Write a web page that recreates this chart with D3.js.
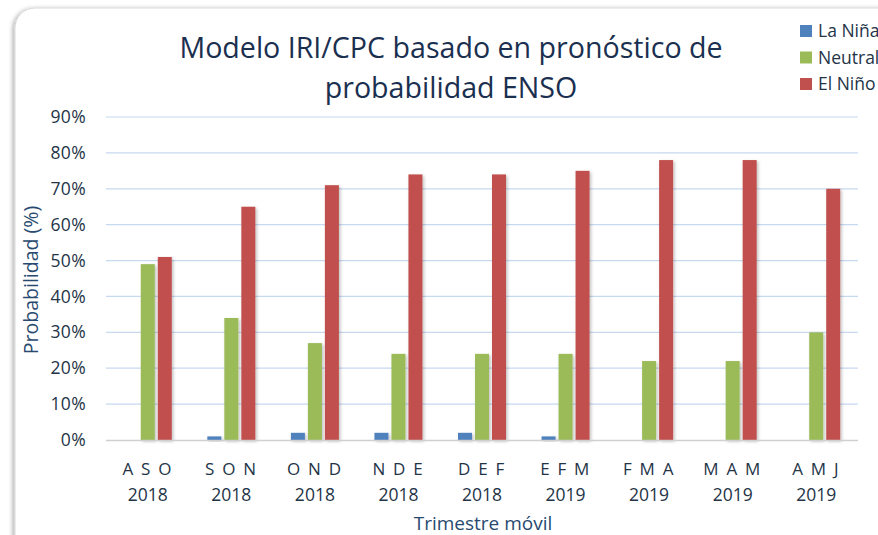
<!DOCTYPE html>
<html><head><meta charset="utf-8">
<script src="https://cdn.jsdelivr.net/npm/d3@7"></script>
<style>
body{margin:0;background:#fff;}
svg{display:block;font-family:"Open Sans",Lato,sans-serif;}
</style></head>
<body><svg id="c" width="878" height="535"></svg>
<script>
const categories = ["A S O|2018","S O N|2018","O N D|2018","N D E|2018","D E F|2018","E F M|2019","F M A|2019","M A M|2019","A M J|2019"];
const seriesNames = ["La Niña","Neutral","El Niño"];
const laNina = [0,1,2,2,2,1,0,0,0];
const neutral = [49,34,27,24,24,24,22,22,30];
const elNino = [51,65,71,74,74,75,78,78,70];
const yTicks = [0,10,20,30,40,50,60,70,80,90];
const colors = ["#4f81bd","#9bbb59","#c0504d"];

const svg = d3.select("#c");
const defs = svg.append("defs");
const f = defs.append("filter").attr("id","sh").attr("x","-50%").attr("y","-50%").attr("width","200%").attr("height","200%");
f.append("feDropShadow").attr("dx",1.5).attr("dy",1.5).attr("stdDeviation",1.5).attr("flood-color","#000").attr("flood-opacity",0.25);
const f2 = defs.append("filter").attr("id","fsh").attr("x","-10%").attr("y","-10%").attr("width","120%").attr("height","120%");
f2.append("feDropShadow").attr("dx",-2).attr("dy",1).attr("stdDeviation",2).attr("flood-color","#000").attr("flood-opacity",0.3);

// frame
svg.append("rect").attr("x",15).attr("y",8).attr("width",900).attr("height",560).attr("rx",20)
  .attr("fill","#fff").attr("stroke","#d9d9d9").attr("stroke-width",1).attr("filter","url(#fsh)");

const m = {l:106, r:858, t:117, b:440};
const x0 = d3.scaleBand().domain(categories).range([m.l,m.r]).paddingInner(0).paddingOuter(0);
const y = d3.scaleLinear().domain([0,90]).range([m.b,m.t]);
const barW = 14, gap = 3;
const x1 = d3.scaleOrdinal().domain([0,1,2]).range([-(barW+gap), 0, barW+gap]);

// grid
svg.append("g").selectAll("line").data(yTicks.filter(d=>d>0)).join("line")
  .attr("x1",m.l).attr("x2",m.r).attr("y1",d=>y(d)).attr("y2",d=>y(d))
  .attr("stroke","#c6d9f1").attr("stroke-width",1.2);

// y axis labels
const yAxis = d3.axisLeft(y).tickValues(yTicks).tickFormat(d=>d+"%").tickSize(0).tickPadding(0);
const yg = svg.append("g").attr("transform",`translate(${m.l-20},0)`).call(yAxis);
yg.attr("font-size",null).attr("font-family",null);
yg.select(".domain").remove();
yg.selectAll("text").style("font-size","17.5px").attr("letter-spacing","0.02em").attr("fill","#243447");

// bars
const data = [laNina, neutral, elNino];
const bars = svg.append("g");
data.forEach((s,i)=>{
  bars.selectAll(null).data(s.map((v,j)=>({v,c:categories[j]}))).join("rect")
    .attr("x",d=>x0(d.c)+x0.bandwidth()/2+x1(i)-barW/2)
    .attr("width",barW)
    .attr("y",d=>y(d.v))
    .attr("height",d=>y(0)-y(d.v))
    .attr("fill",colors[i])
    .attr("filter","url(#sh)");
});

// baseline
svg.append("line").attr("x1",m.l).attr("x2",m.r).attr("y1",y(0)+0.5).attr("y2",y(0)+0.5)
  .attr("stroke","#d0d0d0").attr("stroke-width",1.5);

// x axis labels
const xAxis = d3.axisBottom(x0).tickSize(0).tickFormat("");
const xg = svg.append("g").attr("transform",`translate(0,${m.b})`).call(xAxis);
xg.attr("font-size",null).attr("font-family",null);
xg.select(".domain").remove();
xg.selectAll(".tick").each(function(d){
  const parts = d.split("|");
  const t = d3.select(this);
  t.append("text").attr("y",35).attr("text-anchor","middle").style("font-size","17px")
    .attr("fill","#243447").attr("letter-spacing","0.1em").text(parts[0]);
  t.append("text").attr("y",61).attr("text-anchor","middle").style("font-size","17.5px")
    .attr("fill","#243447").text(parts[1]);
});

// axis titles
svg.append("text").attr("x",483).attr("y",530).attr("text-anchor","middle")
  .style("font-size","19px").attr("fill","#284a70").text("Trimestre móvil");
svg.append("text").attr("transform","translate(38,280) rotate(-90)").attr("text-anchor","middle")
  .style("font-size","19.5px").attr("fill","#284a70").text("Probabilidad (%)");

// title
const title = svg.append("text").attr("text-anchor","middle").attr("fill","#1b3050").style("font-size","28.6px");
title.append("tspan").attr("x",451).attr("y",58).text("Modelo IRI/CPC basado en pronóstico de");
title.append("tspan").attr("x",451).attr("y",98).text("probabilidad ENSO");

// legend
const lg = svg.append("g").attr("transform","translate(800,25)");
seriesNames.forEach((n,i)=>{
  const g = lg.append("g").attr("transform",`translate(0,${i*26.5})`);
  g.append("rect").attr("width",12).attr("height",12).attr("fill",colors[i]);
  g.append("text").attr("x",18).attr("y",12).style("font-size","17.5px").attr("fill","#243447").text(n);
});
</script></body></html>
